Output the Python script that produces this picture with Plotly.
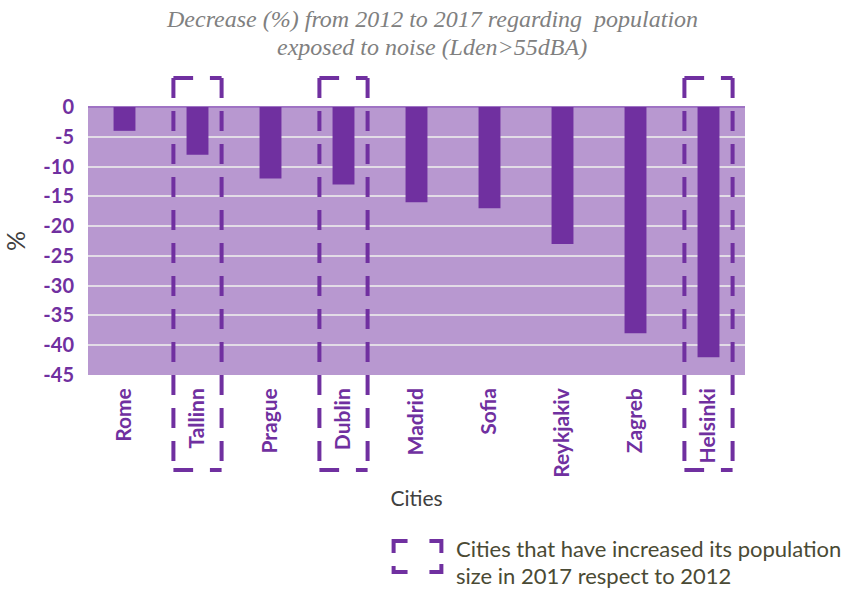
import plotly.graph_objects as go

# Change in exposed population per city, 2012 -> 2017 (%)
cities = ["Rome", "Tallinn", "Prague", "Dublin", "Madrid", "Sofia",
          "Reykjakiv", "Zagreb", "Helsinki"]
decrease_pct = [-4, -8, -12, -13, -16, -17, -23, -38, -42]
# cities whose population grew between 2012 and 2017
growing_cities = ["Tallinn", "Dublin", "Helsinki"]
y_ticks = [0, -5, -10, -15, -20, -25, -30, -35, -40, -45]

PURPLE = "#7030A0"
W, H = 862, 589
L, R, T, B = 85, 117, 107, 214
PW, PH = W - L - R, H - T - B


def px_x(x):
    return (x - L) / PW


def px_y(y):
    return (H - B - y) / PH


fig = go.Figure()
fig.add_trace(go.Bar(
    x=cities, y=decrease_pct, marker_color=PURPLE, width=0.3,
    marker_line_width=0, showlegend=False,
))

shapes = []
box_half = 0.33
box_top, box_bot = px_y(78), px_y(470)
for c in growing_cities:
    i = cities.index(c)
    x0, x1 = i - box_half, i + box_half
    common = dict(type="line", xref="x", yref="paper",
                  line=dict(color=PURPLE, width=4))
    # vertical sides, dashed from the top down
    for xx in (x0, x1):
        shapes.append(dict(common, x0=xx, x1=xx, y0=box_top, y1=box_bot,
                           line=dict(color=PURPLE, width=4, dash="20px,13px")))
    # top and bottom: corner pieces
    for yy in (box_top, box_bot):
        shapes.append(dict(common, x0=x0, x1=x0 + 0.27, y0=yy, y1=yy))
        shapes.append(dict(common, x0=x1 - 0.16, x1=x1, y0=yy, y1=yy))

# legend icon: four corner brackets
lx0, lx1, ly0, ly1 = 392, 440, 541, 572
icon = (f"M {px_x(lx0)},{px_y(ly0 + 12)} L {px_x(lx0)},{px_y(ly0)} L {px_x(lx0 + 14)},{px_y(ly0)} "
        f"M {px_x(lx1 - 12)},{px_y(ly0)} L {px_x(lx1)},{px_y(ly0)} L {px_x(lx1)},{px_y(ly0 + 12)} "
        f"M {px_x(lx0)},{px_y(ly1 - 6)} L {px_x(lx0)},{px_y(ly1)} L {px_x(lx0 + 14)},{px_y(ly1)} "
        f"M {px_x(lx1 - 12)},{px_y(ly1)} L {px_x(lx1)},{px_y(ly1)} L {px_x(lx1)},{px_y(ly1 - 8)}")
shapes.append(dict(type="path", xref="paper", yref="paper", path=icon,
                   line=dict(color=PURPLE, width=4)))

title_font = dict(family="Liberation Serif", size=24, color="#808080", style="italic")
legend_font = dict(family="Lato", size=22, color="#4A4A34")
annotations = [
    dict(text="Decrease (%) from 2012 to 2017 regarding  population",
         xref="paper", yref="paper", x=px_x(431), y=px_y(19),
         xanchor="center", yanchor="middle", showarrow=False, font=title_font),
    dict(text="exposed to noise (Lden>55dBA)",
         xref="paper", yref="paper", x=px_x(431), y=px_y(47),
         xanchor="center", yanchor="middle", showarrow=False, font=title_font),
    dict(text="Cities that have increased its population",
         xref="paper", yref="paper", x=px_x(453), y=px_y(548),
         xanchor="left", yanchor="middle", showarrow=False, font=legend_font),
    dict(text="size in 2017 respect to 2012",
         xref="paper", yref="paper", x=px_x(453), y=px_y(575),
         xanchor="left", yanchor="middle", showarrow=False, font=legend_font),
]

fig.update_layout(
    width=W, height=H,
    margin=dict(l=L, r=R, t=T, b=B),
    paper_bgcolor="white",
    plot_bgcolor="#B898D0",
    shapes=shapes,
    annotations=annotations,
    bargap=0.7,
)

fig.update_yaxes(
    range=[-45, 0], tickvals=y_ticks, ticktext=[str(v) for v in y_ticks],
    showgrid=True, gridcolor="#E2DCE6", gridwidth=2,
    zeroline=True, zerolinecolor="#9F73C4", zerolinewidth=2,
    tickfont=dict(family="Lato", size=20, color=PURPLE, weight="bold"),
    ticklabelstandoff=13,
    title=dict(text="%", font=dict(family="Lato", size=25, color="#404040"), standoff=14),
)
fig.update_xaxes(
    tickangle=-90, showgrid=False, showline=False,
    tickfont=dict(family="Lato", size=21, color=PURPLE, weight="bold"),
    ticklabelstandoff=8,
    title=dict(text="Cities", font=dict(family="Lato", size=21, color="#404040"), standoff=14),
)

fig.write_html("out.html")
